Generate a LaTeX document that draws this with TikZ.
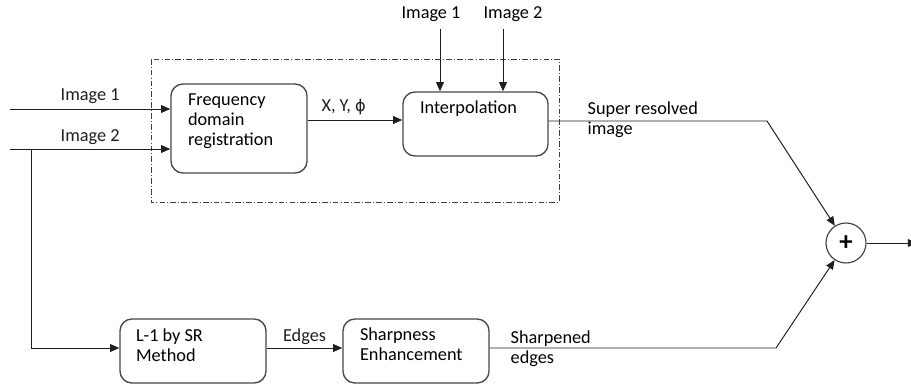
\documentclass[tikz,border=0pt]{standalone}
\usepackage{fontspec}
\setmainfont{Carlito}
\newfontfamily\symfam{DejaVu Sans}
\usepackage{tikz}
\usetikzlibrary{arrows.meta,positioning,calc}

\begin{document}
\begin{tikzpicture}[
    x=0.025cm,y=-0.025cm,
    blk/.style   = {draw=black!72, line width=0.95pt, rounded corners=8.5pt,
                    inner sep=0pt},
    txt/.style   = {font=\fontsize{13}{14.2}\selectfont, align=left,
                    inner sep=1pt, anchor=north west},
    lbl/.style   = {font=\fontsize{13}{14.2}\selectfont, inner sep=1pt},
    arr/.style   = {-{Triangle[length=6.5pt,width=5.5pt]}, black!88,
                    line width=0.7pt},
    lien/.style  = {black!88, line width=0.7pt},
    grp/.style   = {black!75, line width=0.7pt,
                    dash pattern=on 4pt off 1.5pt on 0.7pt off 1.5pt},
    somme/.style = {circle, draw=black!75, line width=0.8pt,
                    minimum size=1cm, inner sep=0pt},
  ]

  \useasboundingbox (0,0) rectangle (911,386);

  % ── Registration group ──────────────────────────────────────────────────
  \draw[grp] (151,59) rectangle (559,202);

  \node[blk, minimum width=3.4cm, minimum height=2.225cm] (freq) at (239,128.5) {};
  \node[txt] (freqt) at ($(freq.north west)+(16,9)$)
       {Frequency\\domain\\registration};

  \node[blk, minimum width=3.625cm, minimum height=1.6cm] (interp) at (475.5,124) {};
  \node[txt] (interpt) at ($(interp.north west)+(16,8)$) {Interpolation};

  % ── Edge branch ─────────────────────────────────────────────────────────
  \node[blk, minimum width=3.65cm, minimum height=1.6cm] (lone) at (193,351) {};
  \node[txt] (lonet) at ($(lone.north west)+(15,9)$) {L-1 by SR\\Method};

  \node[blk, minimum width=3.65cm, minimum height=1.6cm] (sharp) at (416,351) {};
  \node[txt] (sharpt) at ($(sharp.north west)+(16,8)$) {Sharpness\\Enhancement};

  % ── Adder ───────────────────────────────────────────────────────────────
  \node[somme] (sum) at (846,243) {\fontsize{19}{19}\selectfont\bfseries +};

  % ── Inputs ──────────────────────────────────────────────────────────────
  \coordinate (in1) at (10,109);
  \coordinate (in2) at (10,149);
  \coordinate (br)  at (31,149);
  \coordinate (low) at (31,348);

  \draw[arr] (in1) -- node[lbl,above=2.5pt] {Image 1} (in1 -| freq.west);
  \draw[arr] (in2) -- node[lbl,above=1.5pt] {Image 2} (in2 -| freq.west);
  \draw[arr] (br) -- (low) -- (low -| lone.west);

  \node[lbl] (top1) at (431,14) {Image 1};
  \node[lbl] (top2) at (513,14) {Image 2};
  \coordinate (t1) at (440,29);
  \coordinate (t2) at (503,29);
  \draw[arr] (t1) -- (t1 |- interp.north);
  \draw[arr] (t2) -- (t2 |- interp.north);

  % ── Flow between blocks ─────────────────────────────────────────────────
  \coordinate (xy) at (307,120);
  \draw[arr] (xy -| freq.east) -- node[lbl,above=2.5pt,pos=0.38]
       {X, Y, {\symfam\fontsize{11.5}{14}\selectfont ϕ}} (xy -| interp.west);
  \draw[arr] (low -| lone.east) -- node[lbl,above=1pt] {Edges} (low -| sharp.west);

  \coordinate (kt) at (767,121);
  \coordinate (kb) at (776,348);
  \draw[arr] (kt -| interp.east) -- (kt) -- (sum);
  \draw[arr] (low -| sharp.east) -- (kb) -- (sum);

  \node[lbl,align=left,anchor=west] (supt) at (586,120) {Super resolved\\image};
  \node[lbl,align=left,anchor=west] (shpt) at (509,349) {Sharpened\\edges};

  % ── Output ──────────────────────────────────────────────────────────────
  \coordinate (out) at (917,243);
  \draw[arr] (sum) -- (out);

\end{tikzpicture}
\end{document}
